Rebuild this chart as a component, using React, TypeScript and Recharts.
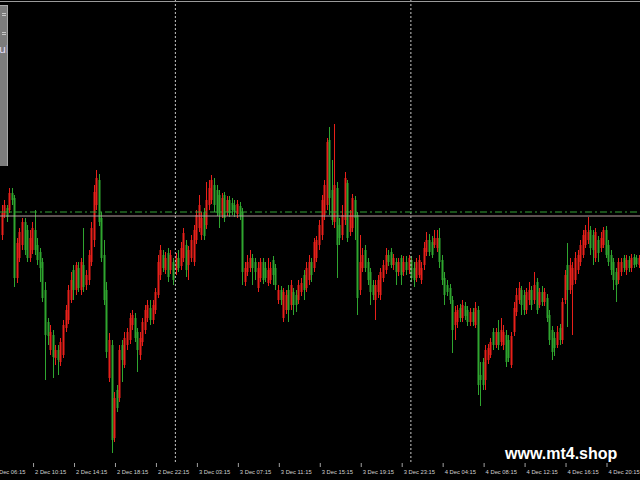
import React from 'react';
import { ComposedChart, Bar, XAxis, YAxis, ReferenceLine } from 'recharts';

// M15 bars
const opens = [
  1.2265, 1.2285, 1.2292, 1.2290, 1.2307, 1.2302, 1.2222, 1.2242, 1.2255, 1.2278,
  1.2270, 1.2242, 1.2250, 1.2270, 1.2255, 1.2248, 1.2238, 1.2210, 1.2178, 1.2150,
  1.2165, 1.2142, 1.2150, 1.2138, 1.2145, 1.2172, 1.2180, 1.2200, 1.2230, 1.2210,
  1.2232, 1.2210, 1.2235, 1.2215, 1.2220, 1.2238, 1.2260, 1.2295, 1.2320, 1.2282,
  1.2245, 1.2210, 1.2122, 1.2155, 1.2062, 1.2110, 1.2102, 1.2155, 1.2135, 1.2155,
  1.2160, 1.2175, 1.2182, 1.2168, 1.2145, 1.2158, 1.2170, 1.2182, 1.2192, 1.2180,
  1.2190, 1.2205, 1.2225, 1.2245, 1.2230, 1.2247, 1.2230, 1.2238, 1.2230, 1.2242,
  1.2234, 1.2242, 1.2255, 1.2235, 1.2242, 1.2238, 1.2260, 1.2272, 1.2265, 1.2288,
  1.2275, 1.2295, 1.2300, 1.2315, 1.2310, 1.2305, 1.2285, 1.2305, 1.2288, 1.2300,
  1.2297, 1.2295, 1.2286, 1.2294, 1.2288, 1.2218, 1.2228, 1.2232, 1.2242, 1.2238,
  1.2212, 1.2222, 1.2238, 1.2232, 1.2217, 1.2220, 1.2240, 1.2232, 1.2200, 1.2210,
  1.2182, 1.2190, 1.2210, 1.2195, 1.2208, 1.2205, 1.2200, 1.2208, 1.2225, 1.2212,
  1.2220, 1.2238, 1.2232, 1.2242, 1.2255, 1.2265, 1.2285, 1.2295, 1.2360, 1.2310,
  1.2278, 1.2312, 1.2275, 1.2265, 1.2280, 1.2317, 1.2268, 1.2272, 1.2300, 1.2285,
  1.2210, 1.2232, 1.2250, 1.2238, 1.2228, 1.2215, 1.2200, 1.2208, 1.2205, 1.2222,
  1.2230, 1.2245, 1.2248, 1.2235, 1.2238, 1.2228, 1.2242, 1.2228, 1.2238, 1.2230,
  1.2240, 1.2232, 1.2222, 1.2225, 1.2220, 1.2235, 1.2248, 1.2260, 1.2258, 1.2255,
  1.2252, 1.2262, 1.2240, 1.2222, 1.2215, 1.2212, 1.2200, 1.2175, 1.2178, 1.2192,
  1.2182, 1.2194, 1.2190, 1.2178, 1.2188, 1.2175, 1.2190, 1.2125, 1.2138, 1.2120,
  1.2140, 1.2145, 1.2168, 1.2155, 1.2168, 1.2158, 1.2155, 1.2165, 1.2160, 1.2135,
  1.2168, 1.2188, 1.2200, 1.2210, 1.2205, 1.2190, 1.2200, 1.2210, 1.2200, 1.2218,
  1.2195, 1.2208, 1.2198, 1.2202, 1.2185, 1.2170, 1.2162, 1.2155, 1.2172, 1.2160,
  1.2200, 1.2235, 1.2210, 1.2215, 1.2220, 1.2230, 1.2238, 1.2245, 1.2255, 1.2260,
  1.2270, 1.2265, 1.2242, 1.2260, 1.2252, 1.2255, 1.2270, 1.2255, 1.2245, 1.2238,
  1.2228, 1.2220, 1.2228, 1.2242, 1.2230, 1.2240, 1.2232, 1.2243, 1.2242, 1.2235,
];

const highs = [
  1.2295, 1.2300, 1.2295, 1.2312, 1.2312, 1.2305, 1.2262, 1.2272, 1.2282, 1.2282,
  1.2275, 1.2270, 1.2278, 1.2290, 1.2262, 1.2252, 1.2242, 1.2218, 1.2182, 1.2175,
  1.2170, 1.2155, 1.2155, 1.2162, 1.2180, 1.2195, 1.2215, 1.2228, 1.2235, 1.2238,
  1.2238, 1.2242, 1.2272, 1.2230, 1.2250, 1.2278, 1.2315, 1.2330, 1.2326, 1.2288,
  1.2260, 1.2218, 1.2167, 1.2160, 1.2108, 1.2115, 1.2155, 1.2160, 1.2168, 1.2172,
  1.2187, 1.2190, 1.2187, 1.2172, 1.2168, 1.2182, 1.2195, 1.2200, 1.2200, 1.2200,
  1.2212, 1.2245, 1.2255, 1.2250, 1.2248, 1.2252, 1.2250, 1.2242, 1.2247, 1.2250,
  1.2258, 1.2272, 1.2260, 1.2254, 1.2265, 1.2275, 1.2290, 1.2305, 1.2288, 1.2292,
  1.2318, 1.2320, 1.2325, 1.2322, 1.2315, 1.2310, 1.2307, 1.2308, 1.2304, 1.2304,
  1.2302, 1.2300, 1.2300, 1.2298, 1.2292, 1.2238, 1.2245, 1.2250, 1.2246, 1.2242,
  1.2238, 1.2242, 1.2242, 1.2238, 1.2242, 1.2238, 1.2244, 1.2236, 1.2215, 1.2214,
  1.2212, 1.2210, 1.2215, 1.2220, 1.2212, 1.2210, 1.2220, 1.2222, 1.2230, 1.2238,
  1.2245, 1.2242, 1.2262, 1.2264, 1.2280, 1.2305, 1.2320, 1.2362, 1.2373, 1.2340,
  1.2376, 1.2318, 1.2282, 1.2295, 1.2328, 1.2320, 1.2290, 1.2306, 1.2304, 1.2288,
  1.2265, 1.2252, 1.2255, 1.2242, 1.2232, 1.2220, 1.2220, 1.2225, 1.2232, 1.2240,
  1.2252, 1.2250, 1.2252, 1.2246, 1.2242, 1.2242, 1.2245, 1.2244, 1.2244, 1.2245,
  1.2244, 1.2238, 1.2242, 1.2245, 1.2238, 1.2258, 1.2268, 1.2266, 1.2264, 1.2270,
  1.2270, 1.2272, 1.2245, 1.2228, 1.2220, 1.2216, 1.2204, 1.2194, 1.2195, 1.2196,
  1.2200, 1.2198, 1.2194, 1.2192, 1.2192, 1.2198, 1.2194, 1.2138, 1.2142, 1.2155,
  1.2156, 1.2162, 1.2172, 1.2172, 1.2180, 1.2182, 1.2175, 1.2170, 1.2165, 1.2168,
  1.2198, 1.2212, 1.2218, 1.2214, 1.2210, 1.2212, 1.2218, 1.2214, 1.2228, 1.2222,
  1.2212, 1.2214, 1.2212, 1.2206, 1.2190, 1.2174, 1.2168, 1.2174, 1.2176, 1.2202,
  1.2230, 1.2257, 1.2242, 1.2238, 1.2248, 1.2250, 1.2260, 1.2270, 1.2275, 1.2283,
  1.2274, 1.2270, 1.2272, 1.2264, 1.2268, 1.2273, 1.2274, 1.2260, 1.2250, 1.2242,
  1.2232, 1.2242, 1.2242, 1.2245, 1.2245, 1.2244, 1.2246, 1.2246, 1.2245, 1.2245,
];

const lows = [
  1.2260, 1.2282, 1.2278, 1.2287, 1.2295, 1.2213, 1.2217, 1.2238, 1.2250, 1.2245,
  1.2238, 1.2238, 1.2246, 1.2245, 1.2235, 1.2218, 1.2198, 1.2120, 1.2155, 1.2145,
  1.2122, 1.2135, 1.2125, 1.2134, 1.2142, 1.2168, 1.2176, 1.2197, 1.2200, 1.2205,
  1.2208, 1.2205, 1.2208, 1.2210, 1.2215, 1.2234, 1.2253, 1.2290, 1.2274, 1.2238,
  1.2195, 1.2142, 1.2118, 1.2047, 1.2058, 1.2088, 1.2098, 1.2118, 1.2132, 1.2150,
  1.2156, 1.2170, 1.2158, 1.2128, 1.2140, 1.2154, 1.2166, 1.2178, 1.2175, 1.2176,
  1.2186, 1.2202, 1.2220, 1.2228, 1.2226, 1.2218, 1.2226, 1.2215, 1.2225, 1.2228,
  1.2230, 1.2238, 1.2223, 1.2220, 1.2238, 1.2234, 1.2256, 1.2268, 1.2260, 1.2260,
  1.2271, 1.2290, 1.2296, 1.2288, 1.2284, 1.2272, 1.2282, 1.2278, 1.2284, 1.2283,
  1.2285, 1.2283, 1.2282, 1.2280, 1.2215, 1.2214, 1.2224, 1.2228, 1.2215, 1.2220,
  1.2208, 1.2218, 1.2216, 1.2218, 1.2214, 1.2216, 1.2215, 1.2210, 1.2196, 1.2195,
  1.2178, 1.2186, 1.2178, 1.2190, 1.2185, 1.2188, 1.2196, 1.2204, 1.2200, 1.2208,
  1.2215, 1.2218, 1.2228, 1.2238, 1.2250, 1.2260, 1.2280, 1.2290, 1.2285, 1.2275,
  1.2272, 1.2222, 1.2255, 1.2260, 1.2275, 1.2258, 1.2264, 1.2268, 1.2260, 1.2185,
  1.2205, 1.2228, 1.2228, 1.2215, 1.2195, 1.2200, 1.2180, 1.2202, 1.2200, 1.2218,
  1.2226, 1.2234, 1.2232, 1.2230, 1.2215, 1.2224, 1.2215, 1.2224, 1.2225, 1.2226,
  1.2218, 1.2213, 1.2218, 1.2222, 1.2216, 1.2230, 1.2244, 1.2244, 1.2242, 1.2252,
  1.2248, 1.2232, 1.2215, 1.2195, 1.2204, 1.2196, 1.2147, 1.2160, 1.2172, 1.2178,
  1.2178, 1.2180, 1.2174, 1.2174, 1.2174, 1.2172, 1.2105, 1.2094, 1.2110, 1.2110,
  1.2136, 1.2142, 1.2150, 1.2152, 1.2150, 1.2154, 1.2150, 1.2133, 1.2138, 1.2132,
  1.2164, 1.2184, 1.2196, 1.2185, 1.2185, 1.2186, 1.2195, 1.2190, 1.2196, 1.2186,
  1.2192, 1.2194, 1.2194, 1.2178, 1.2155, 1.2140, 1.2144, 1.2152, 1.2155, 1.2156,
  1.2196, 1.2173, 1.2206, 1.2165, 1.2216, 1.2226, 1.2234, 1.2242, 1.2252, 1.2256,
  1.2245, 1.2235, 1.2238, 1.2238, 1.2248, 1.2252, 1.2242, 1.2234, 1.2225, 1.2210,
  1.2198, 1.2216, 1.2224, 1.2228, 1.2225, 1.2228, 1.2228, 1.2232, 1.2233, 1.2232,
];

const closes = [
  1.2287, 1.2295, 1.2283, 1.2307, 1.2300, 1.2222, 1.2257, 1.2268, 1.2278, 1.2250,
  1.2242, 1.2262, 1.2272, 1.2250, 1.2240, 1.2232, 1.2202, 1.2165, 1.2164, 1.2168,
  1.2143, 1.2150, 1.2140, 1.2158, 1.2175, 1.2190, 1.2210, 1.2220, 1.2210, 1.2235,
  1.2212, 1.2238, 1.2213, 1.2225, 1.2245, 1.2272, 1.2308, 1.2322, 1.2278, 1.2242,
  1.2200, 1.2148, 1.2160, 1.2060, 1.2102, 1.2092, 1.2150, 1.2140, 1.2162, 1.2168,
  1.2182, 1.2185, 1.2162, 1.2150, 1.2162, 1.2178, 1.2190, 1.2195, 1.2180, 1.2195,
  1.2208, 1.2238, 1.2250, 1.2232, 1.2242, 1.2223, 1.2245, 1.2220, 1.2242, 1.2232,
  1.2252, 1.2267, 1.2230, 1.2250, 1.2260, 1.2270, 1.2285, 1.2295, 1.2282, 1.2264,
  1.2300, 1.2312, 1.2320, 1.2295, 1.2287, 1.2285, 1.2302, 1.2282, 1.2300, 1.2287,
  1.2290, 1.2288, 1.2296, 1.2284, 1.2228, 1.2232, 1.2238, 1.2242, 1.2232, 1.2228,
  1.2232, 1.2238, 1.2220, 1.2222, 1.2230, 1.2232, 1.2225, 1.2215, 1.2210, 1.2200,
  1.2208, 1.2205, 1.2190, 1.2215, 1.2195, 1.2195, 1.2215, 1.2217, 1.2210, 1.2232,
  1.2238, 1.2225, 1.2258, 1.2260, 1.2275, 1.2300, 1.2315, 1.2358, 1.2302, 1.2280,
  1.2315, 1.2255, 1.2262, 1.2285, 1.2322, 1.2262, 1.2285, 1.2302, 1.2282, 1.2202,
  1.2238, 1.2245, 1.2232, 1.2220, 1.2208, 1.2205, 1.2215, 1.2220, 1.2228, 1.2235,
  1.2245, 1.2238, 1.2235, 1.2242, 1.2228, 1.2238, 1.2225, 1.2238, 1.2230, 1.2242,
  1.2222, 1.2220, 1.2238, 1.2240, 1.2232, 1.2252, 1.2260, 1.2248, 1.2245, 1.2262,
  1.2262, 1.2238, 1.2220, 1.2205, 1.2208, 1.2200, 1.2170, 1.2188, 1.2190, 1.2182,
  1.2195, 1.2184, 1.2178, 1.2188, 1.2178, 1.2192, 1.2115, 1.2120, 1.2115, 1.2150,
  1.2152, 1.2158, 1.2155, 1.2168, 1.2155, 1.2170, 1.2168, 1.2138, 1.2142, 1.2164,
  1.2192, 1.2205, 1.2212, 1.2195, 1.2190, 1.2208, 1.2210, 1.2195, 1.2215, 1.2190,
  1.2208, 1.2198, 1.2208, 1.2182, 1.2160, 1.2148, 1.2152, 1.2168, 1.2160, 1.2198,
  1.2225, 1.2210, 1.2235, 1.2232, 1.2242, 1.2245, 1.2255, 1.2265, 1.2270, 1.2268,
  1.2252, 1.2250, 1.2268, 1.2247, 1.2262, 1.2270, 1.2245, 1.2238, 1.2230, 1.2220,
  1.2215, 1.2238, 1.2238, 1.2232, 1.2240, 1.2232, 1.2242, 1.2235, 1.2236, 1.2242,
];

// time axis: bar index of each label, and the label text
const tickBars = [13, 29, 45, 61, 77, 93, 109, 125, 141, 157, 173, 189, 205, 221, 237];
const tickLabels = [
  '2 Dec 10:15', '2 Dec 14:15', '2 Dec 18:15', '2 Dec 22:15', '3 Dec 03:15',
  '3 Dec 07:15', '3 Dec 11:15', '3 Dec 15:15', '3 Dec 19:15', '3 Dec 23:15',
  '4 Dec 04:15', '4 Dec 08:15', '4 Dec 12:15', '4 Dec 16:15', '4 Dec 20:15',
];
const firstLabel = '2 Dec 06:15'; // half scrolled off the left edge

const daySeparators = [68, 160];
const dashLevel = 1.2288;
const bidLevel = 1.2284;

const UP = '#e8201a';
const DOWN = '#2fa52f';

const rows = opens.map((open, i) => ({
  i,
  open,
  high: highs[i],
  low: lows[i],
  close: closes[i],
  range: [lows[i], highs[i]],
}));

const Candle = (props: any) => {
  const { x, y, width, height, payload } = props;
  if (!payload) return null;
  const { open, close, high, low } = payload;
  const color = close >= open ? UP : DOWN;
  const k = high > low ? height / (high - low) : 0;
  const cx = Math.round(x + width / 2);
  const top = y + (high - Math.max(open, close)) * k;
  const bodyH = Math.max(1, Math.abs(close - open) * k);
  return (
    <g>
      <line x1={cx + 0.5} x2={cx + 0.5} y1={y} y2={y + height} stroke={color} strokeWidth={1} />
      <rect x={cx - 0.5} y={top} width={2} height={bodyH} fill={color} />
    </g>
  );
};

const TimeTick = (props: any) => {
  const { x, payload } = props;
  const idx = tickBars.indexOf(payload.value);
  const tx = x - 1.5;
  const label = (lx: number, text: string) => (
    <g>
      <line x1={lx + 0.5} x2={lx + 0.5} y1={463} y2={467} stroke="#a0a0a0" />
      <text x={lx + 2} y={473.5} fill="#d0d0d0" fontSize={5.8} fontFamily="'Liberation Sans', Arial, sans-serif">
        {text}
      </text>
    </g>
  );
  return (
    <g>
      {idx === 0 && label(tx - 16 * 2.56, firstLabel)}
      {label(tx, tickLabels[idx])}
    </g>
  );
};

export default function App() {
  return (
    <div style={{ position: 'absolute', left: 0, top: 0, width: 640, height: 480, background: '#000', overflow: 'hidden' }}>
      <ComposedChart width={640} height={480} data={rows} margin={{ top: 0, right: 0, bottom: 0, left: 0 }} barCategoryGap={0}>
        <XAxis
          dataKey="i"
          type="category"
          ticks={tickBars}
          interval={0}
          tick={<TimeTick />}
          axisLine={false}
          tickLine={false}
          height={18}
        />
        <YAxis hide domain={[1.2038, 1.25]} allowDataOverflow />
        {daySeparators.map((b) => (
          <ReferenceLine key={b} x={b} stroke="#c8c8c8" strokeDasharray="2 2" />
        ))}
        <ReferenceLine y={bidLevel} stroke="#b8a0a0" />
        <ReferenceLine y={dashLevel} stroke="#36a236" strokeDasharray="7 3 2 3" />
        <Bar dataKey="range" shape={<Candle />} isAnimationActive={false} />
      </ComposedChart>
      <div style={{ position: 'absolute', left: 0, top: 1, width: 640, height: 1, background: '#9a9a9a' }} />
      <div
        style={{
          position: 'absolute', left: 0, top: 5, width: 7, height: 160, background: '#7c7c7c',
          borderTop: '1px solid #a8a8a8', borderRight: '1px solid #a8a8a8', overflow: 'hidden',
        }}
      >
        <div style={{ position: 'absolute', left: 2, top: 7, width: 4, height: 1, background: '#c8c8c8' }} />
        <div style={{ position: 'absolute', left: 2, top: 9, width: 4, height: 1, background: '#c8c8c8' }} />
        <div style={{ position: 'absolute', left: 2, top: 26, width: 4, height: 1, background: '#c8c8c8' }} />
        <div style={{ position: 'absolute', left: 2, top: 28, width: 4, height: 1, background: '#c8c8c8' }} />
        <div style={{ position: 'absolute', left: -1, top: 38, fontSize: 11, fontFamily: "'DejaVu Sans', sans-serif", color: '#e4dcf8', lineHeight: '12px' }}>
          ul
        </div>
      </div>
      <div
        style={{
          position: 'absolute', left: 505, top: 444, fontSize: 16, fontWeight: 'bold', color: '#fff',
          fontFamily: "'Liberation Sans', Arial, sans-serif", lineHeight: '19px', whiteSpace: 'nowrap',
        }}
      >
        www.mt4.shop
      </div>
    </div>
  );
}
